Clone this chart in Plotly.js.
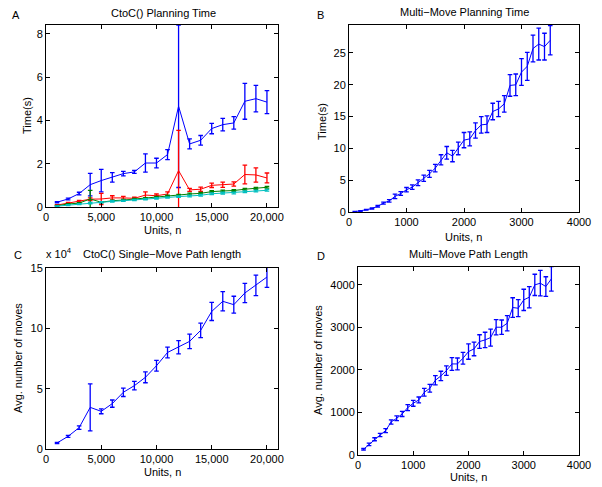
<!DOCTYPE html>
<html>
<head>
<meta charset="utf-8">
<script src="https://cdn.plot.ly/plotly-3.0.1.min.js"></script>
<style>html,body{margin:0;padding:0;background:#fff;}#chart{width:602px;height:487px;}</style>
</head>
<body>
<div id="chart"></div>
<script>
// ---- Panel A: CtoC() Planning Time ----
var nA = [1000,2000,3000,4000,5000,6000,7000,8000,9000,10000,11000,12000,13000,14000,15000,16000,17000,18000,19000,20000];
var blueA = [0.22,0.37,0.62,1.03,1.22,1.37,1.54,1.62,2.03,2.03,2.42,4.65,2.91,3.08,3.62,3.80,3.88,4.88,5.00,4.84];
var blueAerr = [0.03,0.04,0.06,0.52,0.52,0.22,0.10,0.07,0.42,0.22,0.23,3.75,0.23,0.22,0.24,0.29,0.29,0.83,0.61,0.53];
var redA = [0.09,0.18,0.26,0.36,0.37,0.42,0.42,0.40,0.55,0.52,0.60,1.68,0.79,0.82,1.00,1.03,1.06,1.50,1.48,1.34];
var redAerr = [0.02,0.03,0.04,0.06,0.26,0.10,0.07,0.05,0.15,0.08,0.10,1.86,0.07,0.10,0.10,0.12,0.10,0.43,0.33,0.23];
var greenA = [0.06,0.14,0.18,0.37,0.22,0.29,0.32,0.37,0.40,0.46,0.52,0.54,0.60,0.63,0.71,0.74,0.76,0.82,0.86,0.91];
var greenAerr = [0.01,0.02,0.02,0.40,0.03,0.03,0.03,0.03,0.03,0.03,0.03,0.04,0.04,0.04,0.04,0.04,0.04,0.04,0.04,0.04];
var cyanA = [0.04,0.09,0.13,0.18,0.22,0.26,0.29,0.32,0.36,0.40,0.44,0.48,0.51,0.54,0.61,0.64,0.65,0.70,0.74,0.77];
var cyanAerr = [0.01,0.02,0.02,0.03,0.03,0.03,0.03,0.03,0.03,0.03,0.03,0.03,0.04,0.04,0.04,0.04,0.04,0.04,0.04,0.04];

// ---- Panel B: Multi-Move Planning Time ----
var nB = [100,200,300,400,500,600,700,800,900,1000,1100,1200,1300,1400,1500,1600,1700,1800,1900,2000,2100,2200,2300,2400,2500,2600,2700,2800,2900,3000,3100,3200,3300,3400,3500];
var timeB = [0.05,0.15,0.35,0.55,0.9,1.4,1.75,2.45,2.9,3.5,3.9,4.6,5.3,6.0,6.9,8.2,9.3,8.8,10.0,11.3,11.5,12.8,13.7,13.8,15.8,16.2,17.0,19.9,20.0,22.0,22.9,25.7,26.4,26.0,27.0];
var timeBerr = [0.03,0.05,0.07,0.1,0.12,0.15,0.2,0.35,0.3,0.35,0.35,0.45,0.5,0.55,0.6,0.8,1.0,0.9,1.0,1.2,1.1,1.2,1.3,1.3,1.3,1.2,1.3,1.7,1.7,2.1,2.2,2.1,2.5,2.1,2.3];

// ---- Panel C: CtoC() Single-Move Path length (x 10^4) ----
var nC = [1000,2000,3000,4000,5000,6000,7000,8000,9000,10000,11000,12000,13000,14000,15000,16000,17000,18000,19000,20000];
var lenC = [0.50,1.05,1.77,3.45,3.12,3.76,4.70,5.25,5.94,6.90,8.00,8.43,8.92,9.83,11.40,12.24,11.96,12.93,13.56,14.25];
var lenCerr = [0.05,0.08,0.15,1.95,0.20,0.30,0.35,0.35,0.45,0.45,0.45,0.55,0.60,0.60,0.75,0.80,0.70,0.80,0.85,0.85];

// ---- Panel D: Multi-Move Path Length ----
var nD = nB;
var lenD = [133,250,370,470,573,776,863,965,1114,1216,1294,1475,1569,1757,1859,1984,2141,2141,2275,2431,2494,2667,2706,2761,3004,3004,3098,3467,3451,3647,3710,4000,4039,3961,4141];
var lenDerr = [20,30,35,40,45,50,55,60,70,70,70,90,90,110,110,110,150,140,140,180,160,160,180,200,180,170,180,230,200,250,250,250,300,230,290];

var FONT = 'Liberation Sans, Arial, Helvetica, sans-serif';
var BLUE = '#0000ff', RED = '#ff0000', GREEN = '#008000', CYAN = '#00bfbf';

function tr(x, y, e, color, xa, ya) {
  return {
    x: x, y: y, type: 'scatter', mode: 'lines', xaxis: xa, yaxis: ya,
    line: {color: color, width: 1},
    error_y: {type: 'data', array: e, visible: true, color: color, thickness: 1.3, width: 2.3},
    hoverinfo: 'skip', showlegend: false
  };
}

var data = [
  tr(nA, blueA, blueAerr, BLUE, 'x', 'y'),
  tr(nA, redA, redAerr, RED, 'x', 'y'),
  tr(nA, greenA, greenAerr, GREEN, 'x', 'y'),
  tr(nA, cyanA, cyanAerr, CYAN, 'x', 'y'),
  tr(nB, timeB, timeBerr, BLUE, 'x2', 'y2'),
  tr(nC, lenC, lenCerr, BLUE, 'x3', 'y3'),
  tr(nD, lenD, lenDerr, BLUE, 'x4', 'y4')
];

function ax(extra) {
  var base = {
    showline: true, linecolor: '#000', linewidth: 1, mirror: 'ticks',
    ticks: 'inside', ticklen: 4, tickcolor: '#000', tickwidth: 1,
    showgrid: false, zeroline: false, automargin: false,
    tickfont: {family: FONT, size: 11, color: '#000'},
    fixedrange: true
  };
  for (var k in extra) base[k] = extra[k];
  return base;
}

var W = 602, H = 487;
function dx(a, b) { return [a / W, b / W]; }
function dy(top, bottom) { return [1 - bottom / H, 1 - top / H]; }

var texts = [
  // panel titles
  {text: 'CtoC() Planning Time', x: 163, y: 13},
  {text: 'Multi\u2212Move Planning Time', x: 464, y: 12},
  {text: 'CtoC() Single\u2212Move Path length', x: 162, y: 254},
  {text: 'Multi\u2212Move Path Length', x: 468, y: 254},
  {text: 'x 10<sup>4</sup>', x: 59, y: 253},
  // panel letters
  {text: 'A', x: 16, y: 15},
  {text: 'B', x: 320, y: 15},
  {text: 'C', x: 18, y: 255},
  {text: 'D', x: 321, y: 256},
  // axis titles
  {text: 'Units, n', x: 162, y: 230},
  {text: 'Units, n', x: 463, y: 237},
  {text: 'Units, n', x: 162, y: 472},
  {text: 'Units, n', x: 468, y: 477},
  {text: 'Time(s)', x: 27, y: 116, rot: -90},
  {text: 'Time(s)', x: 322, y: 121, rot: -90},
  {text: 'Avg. number of moves', x: 18, y: 358, rot: -90},
  {text: 'Avg. number of moves', x: 318, y: 360, rot: -90}
];

var layout = {
  width: W, height: H,
  margin: {l: 0, r: 0, t: 0, b: 0},
  paper_bgcolor: '#fff', plot_bgcolor: '#fff',
  font: {family: FONT, size: 11, color: '#000'},
  xaxis: ax({domain: dx(46, 278), range: [0, 21000], tickvals: [0,5000,10000,15000,20000], tickformat: ',d', anchor: 'y'}),
  yaxis: ax({domain: dy(25, 207), range: [0, 8.4], tickvals: [0,2,4,6,8], anchor: 'x'}),
  xaxis2: ax({domain: dx(349, 579), range: [0, 4000], tickvals: [0,1000,2000,3000,4000], anchor: 'y2'}),
  yaxis2: ax({domain: dy(25, 212), range: [0, 29.4], tickvals: [0,5,10,15,20,25], anchor: 'x2'}),
  xaxis3: ax({domain: dx(46, 278), range: [0, 21000], tickvals: [0,5000,10000,15000,20000], tickformat: ',d', anchor: 'y3'}),
  yaxis3: ax({domain: dy(268, 449), range: [0, 15], tickvals: [0,5,10,15], anchor: 'x3'}),
  xaxis4: ax({domain: dx(358, 579), range: [0, 4000], tickvals: [0,1000,2000,3000,4000], anchor: 'y4'}),
  yaxis4: ax({domain: dy(267, 455), range: [0, 4420], tickvals: [0,1000,2000,3000,4000], anchor: 'x4'}),
  annotations: texts.map(function (a) {
    return {text: a.text, x: a.x / W, y: 1 - a.y / H, xref: 'paper', yref: 'paper',
      xanchor: 'center', yanchor: 'middle', showarrow: false, textangle: a.rot || 0,
      font: {family: FONT, size: 11, color: '#000'}};
  })
};

Plotly.newPlot('chart', data, layout, {displayModeBar: false, staticPlot: true});
</script>
</body>
</html>
